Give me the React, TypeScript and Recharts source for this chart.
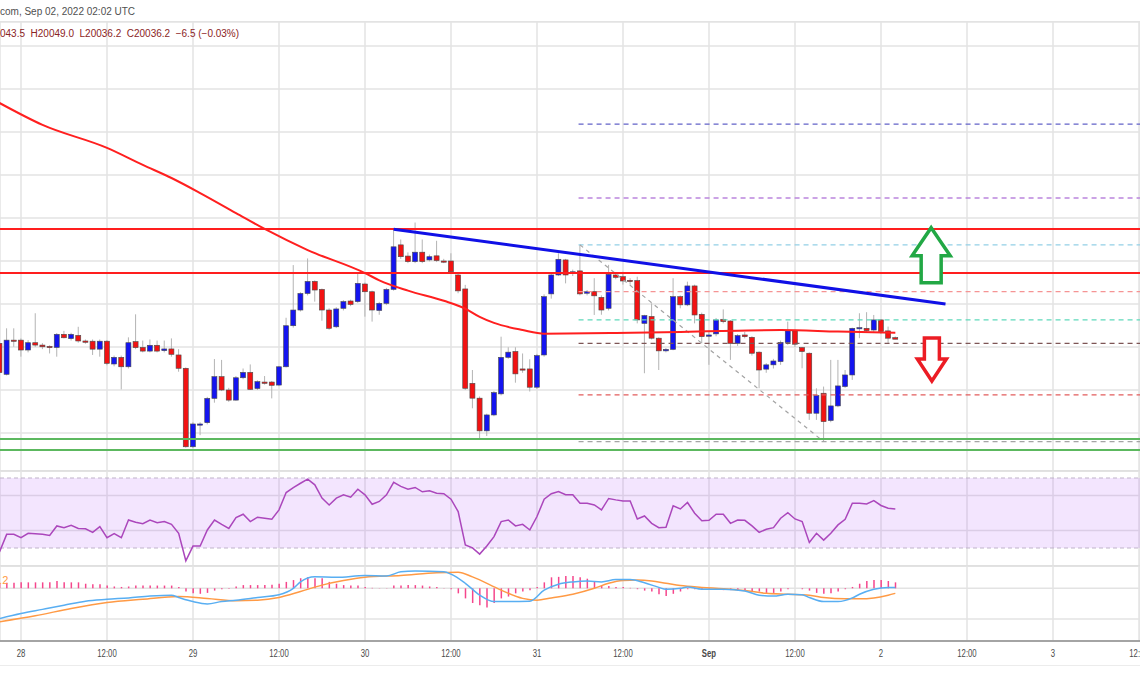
import React from "react";
import {
  ComposedChart,
  Bar,
  Line,
  XAxis,
  YAxis,
  CartesianGrid,
  ReferenceLine,
  ReferenceArea,
  ReferenceDot,
} from "recharts";

// hourly candles, first one is Aug 27 21:00 UTC (hour -3 from Aug 28 00:00)
const FIRST_HOUR = -3;

const opens = [
  20017, 19873, 20032, 20032, 19986, 20020, 20009, 20003, 19998, 20059,
  20039, 20054, 20028, 20027, 19990, 20027, 19921, 19952, 19908, 20025,
  19998, 19981, 20008, 19983, 19991, 19963, 19901, 19536, 19640, 19648,
  19761, 19862, 19800, 19753, 19857, 19882, 19807, 19837, 19837, 19823,
  19908, 20099, 20172, 20249, 20305, 20268, 20172, 20094, 20180, 20214,
  20211, 20293, 20257, 20170, 20203, 20268, 20475, 20423, 20397, 20441,
  20405, 20424, 20400, 20400, 20335, 20270, 19831, 19762, 19610, 19684,
  19782, 19952, 19979, 19898, 19898, 19813, 19963, 20247, 20335, 20405,
  20348, 20354, 20250, 20258, 20231, 20180, 20335, 20327, 20310, 20309,
  20110, 20142, 20041, 19982, 19989, 20234, 20196, 20284, 20152, 20050,
  20061, 20129, 20121, 20017, 20056, 20045, 19976, 19897, 19917, 19932,
  20021, 20075, 19997, 19971, 19692, 19785, 19658, 19726, 19816, 19870,
  20087, 20087, 20079, 20126, 20075, 20043.5,
];

const highs = [
  20030, 20087, 20087, 20040, 20032, 20157, 20018, 20008, 20065, 20075,
  20066, 20094, 20035, 20035, 20035, 20032, 19960, 19960, 20045, 20152,
  20030, 20035, 20030, 20030, 20040, 19990, 19905, 19650, 19650, 19768,
  19944, 19940, 19810, 19865, 19900, 19919, 19845, 19865, 19842, 19912,
  20136, 20381, 20255, 20412, 20310, 20272, 20180, 20185, 20218, 20220,
  20342, 20300, 20262, 20210, 20275, 20548, 20500, 20440, 20579, 20500,
  20430, 20494, 20410, 20436, 20340, 20289, 19893, 19770, 19690, 19795,
  20048, 19999, 19999, 19970, 19943, 19968, 20245, 20340, 20436, 20410,
  20360, 20475, 20265, 20320, 20240, 20382, 20345, 20350, 20320, 20327,
  20150, 20203, 20045, 19995, 20320, 20240, 20304, 20290, 20160, 20070,
  20135, 20175, 20125, 20060, 20070, 20050, 19980, 19925, 19945, 20030,
  20118, 20080, 20000, 19975, 19808, 19816, 19940, 19940, 19893, 20090,
  20157, 20162, 20149, 20130, 20095, 20049,
];

const lows = [
  19875, 19868, 20001, 19955, 19975, 20000, 19990, 19970, 19955, 20040,
  20030, 20020, 20015, 19963, 19955, 19915, 19910, 19803, 19900, 19990,
  19975, 19975, 19975, 19975, 19955, 19885, 19532, 19530, 19590, 19640,
  19741, 19795, 19745, 19750, 19850, 19800, 19800, 19825, 19761, 19818,
  19905, 20090, 20165, 20240, 20211, 20122, 20080, 20088, 20170, 20190,
  20205, 20141, 20118, 20150, 20195, 20262, 20410, 20390, 20390, 20390,
  20398, 20395, 20390, 20345, 20250, 19800, 19715, 19568, 19586, 19678,
  19775, 19945, 19834, 19880, 19793, 19805, 19955, 20225, 20330, 20296,
  20330, 20240, 20240, 20149, 20150, 20170, 20315, 20290, 20290, 20110,
  19878, 20035, 19893, 19975, 19985, 20180, 20190, 20110, 20017, 19917,
  20050, 20110, 19940, 20005, 20040, 19960, 19808, 19880, 19900, 19917,
  20010, 20000, 19901, 19661, 19661, 19560, 19650, 19720, 19810, 19847,
  20041, 20070, 20070, 20060, 20017, 20036.2,
];

const closes = [
  19881, 20032, 20030, 19986, 20020, 20009, 20001, 19997, 20059, 20043,
  20059, 20028, 20022, 19990, 20027, 19924, 19952, 19908, 20020, 19997,
  19981, 20008, 19981, 19991, 19966, 19901, 19536, 19642, 19642, 19761,
  19862, 19800, 19753, 19857, 19882, 19803, 19839, 19831, 19822, 19908,
  20099, 20172, 20249, 20305, 20265, 20172, 20087, 20177, 20211, 20198,
  20296, 20257, 20172, 20203, 20268, 20466, 20420, 20397, 20441, 20397,
  20420, 20402, 20398, 20350, 20261, 19808, 19762, 19610, 19684, 19788,
  19952, 19976, 19875, 19894, 19813, 19960, 20234, 20335, 20408, 20335,
  20350, 20247, 20257, 20238, 20172, 20338, 20324, 20307, 20309, 20126,
  20146, 20041, 19982, 19989, 20234, 20196, 20284, 20149, 20048, 20056,
  20126, 20118, 20017, 20053, 20048, 19971, 19893, 19917, 19935, 20021,
  20075, 20013, 19979, 19692, 19774, 19653, 19726, 19819, 19870, 20087,
  20090, 20076, 20126, 20072, 20041, 20036.2,
];

// 100-hour moving average, read at a few candles
const smaHours = [-3, 3, 12, 17, 21, 25, 30, 34, 40, 48, 50, 54, 59, 62, 64, 66, 70, 73, 83, 92, 100, 106, 114, 122];
const smaValues = [
  21135, 21033, 20926, 20847, 20786, 20716, 20623, 20549, 20451, 20344, 20310, 20262,
  20215, 20178, 20140, 20112, 20079, 20062, 20065, 20070, 20076, 20079, 20072, 20066,
];

const rsiValues = [
  27.8, 37.8, 37.8, 35.9, 38.4, 38.1, 37.8, 37.2, 42.6, 41.6,
  43, 41.2, 41, 38.9, 42.2, 35.9, 38.2, 35.9, 46, 44.7,
  43.9, 46, 44.5, 45.1, 43.5, 38.4, 22.7, 31.1, 31.1, 40.3,
  46, 43.5, 41.2, 47.4, 49.3, 45.1, 47.6, 47, 46.4, 51.8,
  61.7, 64.5, 67, 69.4, 66.1, 58.5, 54.6, 58.5, 60.4, 59,
  63.6, 60.4, 55, 56.6, 60.4, 67.5, 65.2, 63.6, 64.6, 62.1,
  62.7, 61.3, 61, 57.9, 50.8, 31.7, 30.1, 26.5, 31.1, 36.5,
  45.1, 46, 42.6, 43.5, 40.3, 48, 57.9, 61, 62.3, 60.4,
  60.4, 55.6, 55.6, 54.6, 51.8, 58.3, 57.5, 56.9, 56.9, 46.6,
  48.3, 44.1, 41.6, 41.8, 54.1, 52.3, 56, 49.9, 45.6, 45.8,
  49.3, 49.3, 44.1, 46, 45.8, 42.6, 38.9, 40.7, 41.6, 47,
  50.2, 46.6, 45.1, 33.2, 38.4, 34.5, 38.4, 43.2, 46.4, 55.6,
  55.5, 55.2, 57.1, 54.3, 52.7, 52.3,
];

const macdHist = [
  10, 12, 12, 13, 13, 13, 13, 13, 16, 13,
  13, 13, 10, 9, 9, 6, 4, 3, 4, 6,
  6, 6, 6, 6, 6, 3, -7, -11, -12, -10,
  -5, -2, -1, 4, 7, 7, 7, 7, 8, 10,
  14, 18, 22, 24, 22, 22, 14, 10, 7, 6,
  6, 3, 1, 0.5, 0.5, 6, 6, 7, 7, 6,
  4, 3, 0.5, -2, -11, -22, -32, -37, -42, -32,
  -22, -18, -11, -7, -4, 3, 13, 24, 25, 27,
  27, 24, 21, 14, 7, 5, 3, 3, 1, -2,
  -5, -7, -13, -17, -12, -7, -2, -2, -2, -2,
  -2, -4, -4, -5, -5, -7, -7, -10, -10, -7,
  -2, 0, -2, -5, -10, -12, -11, -7, -2, 3,
  10, 16, 18, 18, 16, 13,
];

const macdHours = [
  -3, 0, 3, 6, 9, 12, 15, 18, 21, 22, 24, 26, 28, 30, 33, 36, 38, 39, 41, 44, 48, 51, 53, 55, 59, 60, 62, 64, 66,
  68, 71, 73, 75, 77, 79, 81, 83, 85, 87, 89, 90, 92, 93, 95, 98, 101, 103, 105, 107, 109, 110, 112, 114, 116,
  117, 119, 121, 122,
];
const macdValues = [
  -66, -55, -46, -37, -28, -24, -21, -17, -15, -20, -29, -34, -29, -26, -20, -14, 0, 14, 25, 24, 28, 27, 36, 38,
  36, 31, 11, -15, -29, -29, -28, -4, 9, 14, 16, 14, 19, 19, 12, 2, -2, 0, 3, -2, -2, -6, -15, -17, -13, -14,
  -20, -29, -29, -21, -13, -2, 2, 2,
];

const signalHours = [
  -3, 2, 7, 12, 17, 22, 26, 30, 33, 36, 39, 42, 45, 48, 53, 58, 61, 63, 67, 70, 72, 74, 77, 80, 82, 84, 86, 88,
  90, 92, 95, 98, 101, 104, 107, 110, 112, 115, 117, 119, 121, 122,
];
const signalValues = [
  -73, -60, -44, -31, -24, -18, -22, -27, -26, -20, -7, 7, 17, 24, 28, 34, 35, 25, -4, -22, -26, -21, -13, 0,
  11, 17, 18, 16, 11, 6, 2, -1, -5, -11, -13, -15, -20, -23, -23, -21, -15, -11,
];

// horizontal levels drawn on the chart
const resistanceLevels = [20549, 20344];
const supportLevels = [19572, 19521];
const fibLevels = [21037, 20693, 20475, 20258, 20126, 20017, 19777, 19560];
const fibColors = ["#6262c8", "#bb85dd", "#93cfe6", "#f59494", "#5fd9bb", "#7d5555", "#e25c5c", "#a5a5a5"];
const fibStartHour = 77.8;
const fibSwing = [
  { hour: 78, price: 20475 },
  { hour: 112, price: 19560 },
];
const trendLine = [
  { hour: 52, price: 20548 },
  { hour: 129, price: 20200 },
];
const upArrow = { hour: 127, price: 20555 };
const downArrow = { hour: 127.1, price: 19842 };

const dayTicks = [0, 12, 24, 36, 48, 60, 72, 84, 96, 108, 120, 132, 144, 156];
const tickLabels = ["28", "12:00", "29", "12:00", "30", "12:00", "31", "12:00", "Sep", "12:00", "2", "12:00", "3", "12:00"];
const priceTicks = [19600, 19800, 20000, 20200, 20400, 20600, 20800, 21000, 21200, 21400];
const rsiTicks = [40, 60];
const macdTicks = [-67, 0];

const X_DOMAIN: [number, number] = [-2.93, 156.14];
const PRICE_DOMAIN: [number, number] = [19423.3, 21511.6];
const RSI_DOMAIN: [number, number] = [19.71, 74];
const MACD_DOMAIN: [number, number] = [-115, 48.7];

const smaByHour = new Map(smaHours.map((h, i) => [h, smaValues[i]]));
const macdByHour = new Map(macdHours.map((h, i) => [h, macdValues[i]]));
const signalByHour = new Map(signalHours.map((h, i) => [h, signalValues[i]]));
const labelByHour = new Map(dayTicks.map((h, i) => [h, tickLabels[i]]));

const rows = opens.map((open, i) => {
  const hour = FIRST_HOUR + i;
  return {
    hour,
    open,
    high: highs[i],
    low: lows[i],
    close: closes[i],
    sma: smaByHour.get(hour) ?? null,
    rsi: rsiValues[i],
    hist: macdHist[i],
    macd: macdByHour.get(hour) ?? null,
    signal: signalByHour.get(hour) ?? null,
  };
});

const WIDTH = 1140;
const GRID = "#e3e3e3";
const noMargin = { top: 0, right: 0, bottom: 0, left: 0 };

function Candle(props: any) {
  const { x, y, width, height, payload } = props;
  if (payload == null || x == null) return null;
  const { open, close, high, low } = payload;
  const range = high - low || 1;
  const toY = (p: number) => y + ((high - p) / range) * height;
  const cx = x + width / 2;
  const top = toY(Math.max(open, close));
  const bottom = toY(Math.min(open, close));
  const up = close >= open;
  return (
    <g>
      <line x1={cx} x2={cx} y1={y} y2={y + height} stroke="#b4b4b4" strokeWidth={1} />
      <rect
        x={cx - 2.5}
        y={top}
        width={5}
        height={Math.max(bottom - top, 1.2)}
        fill={up ? "#1414f0" : "#f21212"}
        stroke="#4a4a4a"
        strokeWidth={0.6}
      />
    </g>
  );
}

function UpArrow({ cx, cy }: any) {
  const pts = [[0, 0], [19, 28], [10, 28], [10, 55], [-10, 55], [-10, 28], [-19, 28]];
  return (
    <polygon
      points={pts.map(([dx, dy]) => `${cx + dx},${cy + dy}`).join(" ")}
      fill="#ffffff"
      stroke="#22a845"
      strokeWidth={3.5}
    />
  );
}

function DownArrow({ cx, cy }: any) {
  const pts = [[0, 0], [14.5, -22], [7.5, -22], [7.5, -43], [-7.5, -43], [-7.5, -22], [-14.5, -22]];
  return (
    <polygon
      points={pts.map(([dx, dy]) => `${cx + dx},${cy + dy}`).join(" ")}
      fill="#ffffff"
      stroke="#ec1c24"
      strokeWidth={3.5}
    />
  );
}

function TimeTick({ x, y, payload }: any) {
  const label = labelByHour.get(payload.value) ?? "";
  return (
    <text
      x={x}
      y={y + 8}
      textAnchor="middle"
      fontSize={10.5}
      fill="#4a4a4a"
      fontWeight={label === "Sep" ? 700 : 400}
      transform={`translate(${x} 0) scale(0.74 1) translate(${-x} 0)`}
    >
      {label}
    </text>
  );
}

function PricePane() {
  return (
    <ComposedChart width={WIDTH} height={449} data={rows} margin={noMargin}>
      <CartesianGrid stroke={GRID} strokeWidth={1.5} />
      <XAxis dataKey="hour" type="number" scale="linear" domain={X_DOMAIN} ticks={dayTicks} allowDataOverflow hide />
      <YAxis type="number" domain={PRICE_DOMAIN} ticks={priceTicks} allowDataOverflow hide />

      {fibLevels.map((level, i) => (
        <ReferenceLine
          key={`fib-${level}`}
          segment={[
            { x: fibStartHour, y: level },
            { x: X_DOMAIN[1], y: level },
          ]}
          stroke={fibColors[i]}
          strokeWidth={1.3}
          strokeDasharray="5 4"
        />
      ))}
      <ReferenceLine
        segment={[
          { x: fibSwing[0].hour, y: fibSwing[0].price },
          { x: fibSwing[1].hour, y: fibSwing[1].price },
        ]}
        stroke="#a3a3a3"
        strokeWidth={1.2}
        strokeDasharray="4 4"
      />
      {resistanceLevels.map((level) => (
        <ReferenceLine key={`res-${level}`} y={level} stroke="#ff1e1e" strokeWidth={2} />
      ))}
      {supportLevels.map((level) => (
        <ReferenceLine key={`sup-${level}`} y={level} stroke="#5cb85f" strokeWidth={2} />
      ))}

      <Line dataKey="sma" type="monotone" stroke="#ff1f1f" strokeWidth={2} dot={false} connectNulls isAnimationActive={false} />
      <Bar dataKey={(d: any) => [d.low, d.high]} barSize={5} shape={Candle} isAnimationActive={false} />

      <ReferenceLine
        segment={[
          { x: trendLine[0].hour, y: trendLine[0].price },
          { x: trendLine[1].hour, y: trendLine[1].price },
        ]}
        stroke="#1010e6"
        strokeWidth={3}
      />
      <ReferenceDot x={upArrow.hour} y={upArrow.price} r={1} ifOverflow="visible" shape={(p: any) => <UpArrow cx={p.cx} cy={p.cy} />} />
      <ReferenceDot x={downArrow.hour} y={downArrow.price} r={1} ifOverflow="visible" shape={(p: any) => <DownArrow cx={p.cx} cy={p.cy} />} />
    </ComposedChart>
  );
}

function RsiPane() {
  return (
    <ComposedChart width={WIDTH} height={95} data={rows} margin={noMargin}>
      <CartesianGrid stroke={GRID} strokeWidth={1.5} />
      <XAxis dataKey="hour" type="number" scale="linear" domain={X_DOMAIN} ticks={dayTicks} allowDataOverflow hide />
      <YAxis type="number" domain={RSI_DOMAIN} ticks={rsiTicks} allowDataOverflow hide />
      <ReferenceArea y1={30} y2={70} fill="#af52f8" fillOpacity={0.15} stroke="none" />
      <ReferenceLine y={70} stroke="#bfb3c9" strokeDasharray="4 3" strokeWidth={1.2} />
      <ReferenceLine y={30} stroke="#bfb3c9" strokeDasharray="4 3" strokeWidth={1.2} />
      <Line dataKey="rsi" type="linear" stroke="#ab47bc" strokeWidth={1.5} dot={false} isAnimationActive={false} />
    </ComposedChart>
  );
}

function MacdPane() {
  return (
    <ComposedChart width={WIDTH} height={99} data={rows} margin={noMargin}>
      <CartesianGrid stroke={GRID} strokeWidth={1.5} />
      <XAxis
        dataKey="hour"
        type="number"
        scale="linear"
        domain={X_DOMAIN}
        ticks={dayTicks}
        interval={0}
        allowDataOverflow
        height={24}
        tickLine={false}
        axisLine={{ stroke: "#8c8c8c", strokeWidth: 1.5 }}
        tick={<TimeTick />}
      />
      <YAxis type="number" domain={MACD_DOMAIN} ticks={macdTicks} allowDataOverflow hide />
      <Bar dataKey="hist" barSize={1.5} fill="#f5468c" isAnimationActive={false} />
      <Line dataKey="signal" type="monotone" stroke="#ff9a45" strokeWidth={1.5} dot={false} connectNulls isAnimationActive={false} />
      <Line dataKey="macd" type="monotone" stroke="#58aef2" strokeWidth={1.5} dot={false} connectNulls isAnimationActive={false} />
    </ComposedChart>
  );
}

export default function App() {
  const font = "'Liberation Sans', Arial, sans-serif";
  return (
    <div style={{ position: "absolute", left: 0, top: 0, width: WIDTH, height: 694, background: "#fff", overflow: "hidden", fontFamily: font }}>
      <div style={{ position: "absolute", left: 0, top: 6, fontSize: 10, color: "#505050", whiteSpace: "nowrap" }}>
        com, Sep 02, 2022 02:02 UTC
      </div>
      <div style={{ position: "absolute", left: 0, top: 21, width: WIDTH, height: 1, background: GRID }} />
      <div style={{ position: "absolute", left: 0, top: 28, fontSize: 10, color: "#8b2424", whiteSpace: "pre", zIndex: 2 }}>
        {"043.5  H20049.0  L20036.2  C20036.2  −6.5 (−0.03%)"}
      </div>

      <div style={{ position: "absolute", left: 0, top: 22 }}>
        <PricePane />
      </div>
      <div style={{ position: "absolute", left: 0, top: 470, width: WIDTH, height: 2, background: "#e0e0e0" }} />
      <div style={{ position: "absolute", left: 0, top: 471 }}>
        <RsiPane />
      </div>
      <div style={{ position: "absolute", left: 0, top: 565, width: WIDTH, height: 2, background: "#e0e0e0" }} />
      <div style={{ position: "absolute", left: 0, top: 566 }}>
        <MacdPane />
      </div>
      <div style={{ position: "absolute", left: -7, top: 574, fontSize: 11, color: "#ff9a45", zIndex: 2 }}>4.2</div>
      <div style={{ position: "absolute", left: 0, top: 665, width: WIDTH, height: 1, background: "#ececec" }} />
    </div>
  );
}
